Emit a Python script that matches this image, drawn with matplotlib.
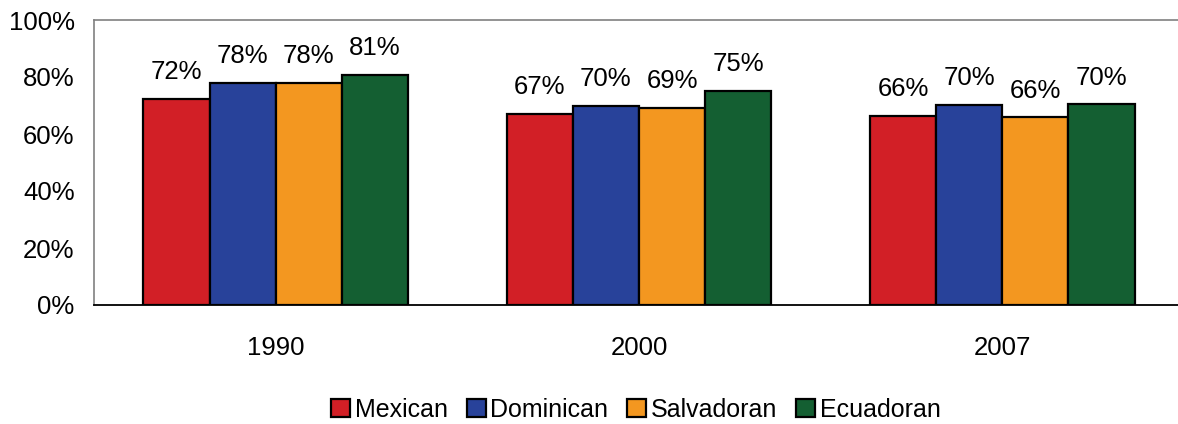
import matplotlib
matplotlib.use("Agg")
import matplotlib.pyplot as plt
import numpy as np
from matplotlib.patches import Patch

plt.rcParams['font.family'] = ['Liberation Sans', 'DejaVu Sans']

years = ["1990", "2000", "2007"]
series = ["Mexican", "Dominican", "Salvadoran", "Ecuadoran"]
mexican = [72.3, 67.0, 66.3]
dominican = [77.8, 69.8, 70.2]
salvadoran = [77.8, 69.1, 65.8]
ecuadoran = [80.8, 75.1, 70.4]
labels = [[72, 67, 66], [78, 70, 70], [78, 69, 66], [81, 75, 70]]
colors = ["#D21F26", "#28429A", "#F39720", "#145F32"]

values = [mexican, dominican, salvadoran, ecuadoran]

fig = plt.figure(figsize=(11.78, 4.24), dpi=100)
W, H = 1178, 424
left, right, top, bottom = 94, 1184, 20, 305
ax = fig.add_axes([left / W, 1 - bottom / H, (right - left) / W, (bottom - top) / H])

x = np.arange(len(years))
bw = 0.182
for i, (vals, c) in enumerate(zip(values, colors)):
    pos = x + (i - 1.5) * bw
    ax.bar(pos, vals, width=bw, color=c, edgecolor="black", linewidth=1.6, zorder=3)
    for p, v, lab in zip(pos, vals, labels[i]):
        ax.text(p, v + 5.2, f"{lab}%", ha="center", va="bottom", fontsize=18.5)

ax.set_xlim(-0.5, 2.5)
ax.set_ylim(0, 100)
ax.set_yticks(np.arange(0, 101, 20))
ax.set_yticklabels([f"{t}%" for t in range(0, 101, 20)])
ax.set_xticks(x)
ax.set_xticklabels(years)
ax.tick_params(axis="both", length=0, labelsize=18.5)
ax.tick_params(axis="y", pad=14)
ax.tick_params(axis="x", pad=22)

ax.spines["right"].set_visible(False)
ax.spines["top"].set_color("#808080")
ax.spines["left"].set_color("#808080")
ax.spines["top"].set_linewidth(1.2)
ax.spines["left"].set_linewidth(1.2)
ax.spines["bottom"].set_color("black")
ax.spines["bottom"].set_linewidth(1.3)

handles = [Patch(facecolor=c, edgecolor="black", linewidth=1.6, label=s) for s, c in zip(series, colors)]
fig.legend(handles=handles, loc="center", bbox_to_anchor=(636 / W, 1 - 410 / H), ncol=4,
           frameon=False, fontsize=18, handlelength=0.75, handleheight=0.75,
           handletextpad=0.2, columnspacing=0.75)

fig.savefig("out.png", dpi=100)
